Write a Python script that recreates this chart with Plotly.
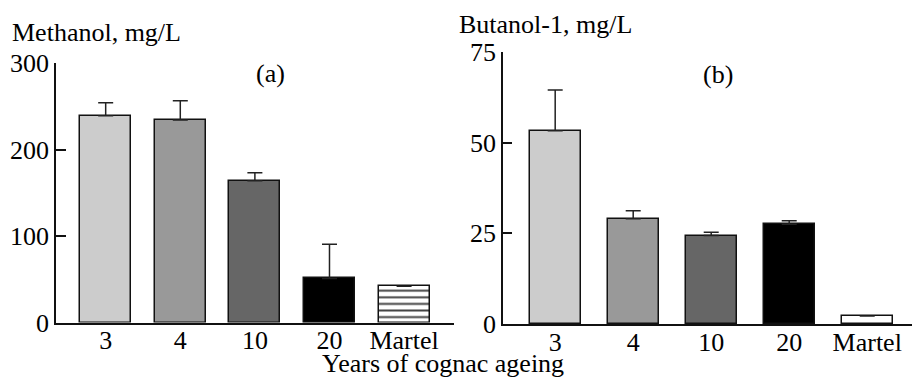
import plotly.graph_objects as go

W, H = 912, 383

categories = ["3", "4", "10", "20", "Martel"]

methanol = [239, 234, 164, 51, 42]
methanol_err = [15, 22.5, 9, 39.5, None]

butanol = [53.3, 29.0, 24.4, 27.5, 2.2]
butanol_err = [11.2, 2.2, 0.9, 1.0, None]

methanol_ticks = [0, 100, 200, 300]
butanol_ticks = [0, 25, 50, 75]

bar_colors = ["#cccccc", "#999999", "#666666", "#000000", "#ffffff"]
FONT = "Liberation Serif"
FS = 26

fig = go.Figure()

fig.add_trace(go.Bar(
    x=categories, y=methanol,
    xaxis="x", yaxis="y",
    width=0.685,
    marker=dict(
        color=bar_colors,
        line=dict(color="#111111", width=1.5),
        pattern=dict(shape=["", "", "", "", "-"], size=6.6, solidity=0.3,
                     fgcolor="#000000", fgopacity=1, bgcolor="#ffffff", fillmode="overlay"),
    ),
    error_y=dict(type="data", array=methanol_err, arrayminus=[0]*5, symmetric=False,
                 color="#222222", thickness=1.5, width=7.5),
    showlegend=False,
))

fig.add_trace(go.Bar(
    x=categories, y=butanol,
    xaxis="x2", yaxis="y2",
    width=0.654,
    marker=dict(color=bar_colors, line=dict(color="#111111", width=1.5)),
    error_y=dict(type="data", array=butanol_err, arrayminus=[0]*5, symmetric=False,
                 color="#222222", thickness=1.5, width=7.5),
    showlegend=False,
))

axis_common = dict(showline=True, linecolor="#111111", linewidth=1.5,
                   showgrid=False, zeroline=False, automargin=False,
                   tickfont=dict(family=FONT, size=FS, color="#000000"))

fig.update_layout(
    width=W, height=H,
    margin=dict(l=0, r=0, t=0, b=0, autoexpand=False),
    paper_bgcolor="white", plot_bgcolor="white",
    bargap=0,
    font=dict(family=FONT, size=FS, color="#000000"),
    xaxis=dict(domain=[56 / W, 454 / W], anchor="y", type="category",
               range=[-0.666, 4.669], ticks="", ticklabelstandoff=-6, **axis_common),
    yaxis=dict(domain=[(H - 322.5) / H, (H - 63) / H], anchor="x",
               range=[0, 300], tickvals=methanol_ticks, ticks="inside",
               ticklen=10, tickwidth=1.5, tickcolor="#111111", **axis_common),
    xaxis2=dict(domain=[503 / W, 1.0], anchor="y2", type="category",
                range=[-0.669, 4.574], ticks="", ticklabelstandoff=-6, **axis_common),
    yaxis2=dict(domain=[(H - 324) / H, (H - 52) / H], anchor="x2",
                range=[0, 75], tickvals=butanol_ticks, ticks="inside",
                ticklen=9, tickwidth=1.5, tickcolor="#111111", **axis_common),
    annotations=[
        dict(text="Methanol, mg/L", xref="paper", yref="paper",
             x=10 / W, y=1 - 33 / H, xanchor="left", yanchor="middle",
             showarrow=False, font=dict(family=FONT, size=FS)),
        dict(text="Butanol-1, mg/L", xref="paper", yref="paper",
             x=457 / W, y=1 - 25 / H, xanchor="left", yanchor="middle",
             showarrow=False, font=dict(family=FONT, size=FS)),
        dict(text="(a)", xref="paper", yref="paper",
             x=270.5 / W, y=1 - 74 / H, xanchor="center", yanchor="middle",
             showarrow=False, font=dict(family=FONT, size=FS)),
        dict(text="(b)", xref="paper", yref="paper",
             x=717.5 / W, y=1 - 75 / H, xanchor="center", yanchor="middle",
             showarrow=False, font=dict(family=FONT, size=FS)),
        dict(text="Years of cognac ageing", xref="paper", yref="paper",
             x=443 / W, y=1 - 363 / H, xanchor="center", yanchor="middle",
             showarrow=False, font=dict(family=FONT, size=FS)),
    ],
)

fig.write_html("out.html", config={"displayModeBar": False},
               post_script="document.body.style.margin='0';document.body.style.padding='0';")
